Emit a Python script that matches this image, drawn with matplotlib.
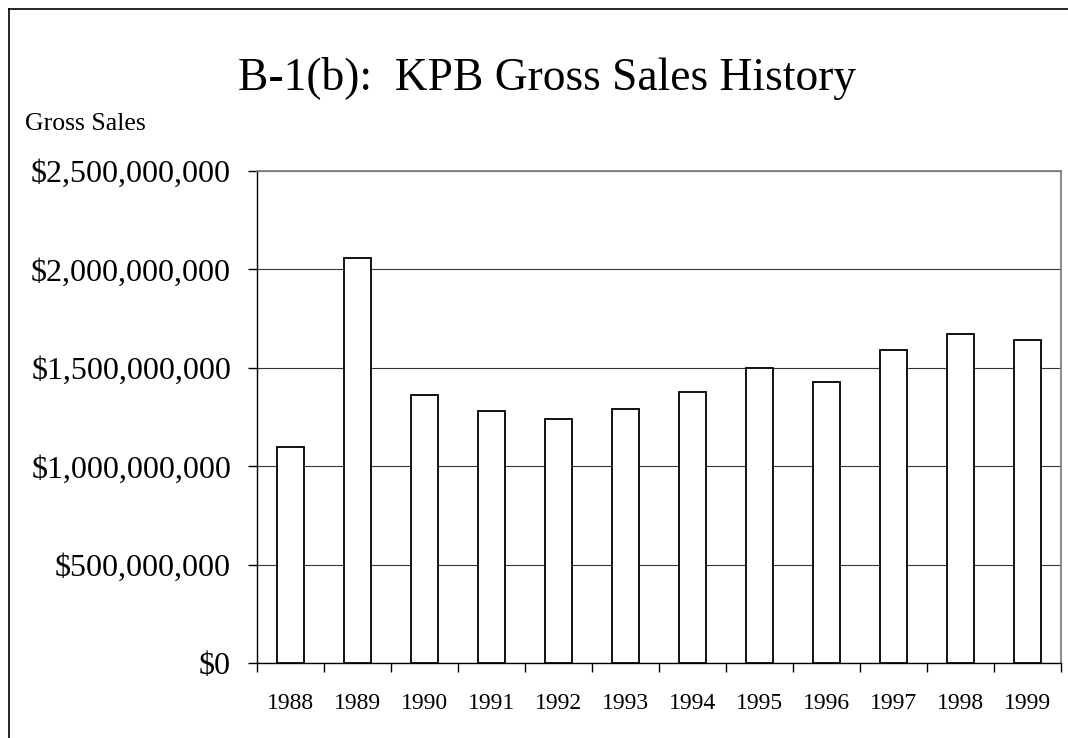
# KPB Gross Sales History als Balkendiagramm
import numpy as np
import matplotlib.pyplot as plt
from matplotlib.lines import Line2D
from matplotlib.ticker import FuncFormatter

plt.rcParams['font.family'] = ['Liberation Serif', 'DejaVu Serif']

# Daten
jahre = ['1988', '1989', '1990', '1991', '1992', '1993',
         '1994', '1995', '1996', '1997', '1998', '1999']
umsatz = [1.10e9, 2.06e9, 1.36e9, 1.28e9, 1.24e9, 1.29e9,
          1.38e9, 1.50e9, 1.43e9, 1.59e9, 1.67e9, 1.64e9]
y_ticks = [0, 5e8, 1e9, 1.5e9, 2e9, 2.5e9]

fig = plt.figure(figsize=(10.68, 7.38), dpi=100)
ax = fig.add_axes([0.2404, 0.1012, 0.9934 - 0.2404, 0.7683 - 0.1012])

x = np.arange(len(jahre))
ax.bar(x, umsatz, width=0.41, color='white', edgecolor='black', linewidth=1.3, zorder=3)

# Achsen
ax.set_xlim(-0.5, len(jahre) - 0.5)
ax.set_ylim(0, 2.5e9)
ax.set_yticks(y_ticks)
ax.yaxis.set_major_formatter(FuncFormatter(lambda v, p: f'${v:,.0f}'))
ax.tick_params(axis='y', direction='out', length=6.5, width=1, pad=12, labelsize=23)

# x-Ticks zwischen den Kategorien, Beschriftung in der Mitte
ax.set_xticks(np.arange(-0.5, len(jahre)), minor=False)
ax.set_xticklabels([])
ax.set_xticks(x, minor=True)
ax.set_xticklabels(jahre, minor=True)
ax.tick_params(axis='x', which='major', direction='out', length=6.3, width=1)
ax.tick_params(axis='x', which='minor', length=0, pad=21.5, labelsize=17)

ax.grid(axis='y', color='#333333', linewidth=0.8, zorder=0)
ax.set_axisbelow(True)

for s in ['left', 'bottom']:
    ax.spines[s].set_color('black')
    ax.spines[s].set_linewidth(1.0)
for s in ['top', 'right']:
    ax.spines[s].set_color('#808080')
    ax.spines[s].set_linewidth(1.3)

# Titel und Beschriftung
fig.text(547.5 / 1068, 1 - 90 / 738, 'B-1(b):  KPB Gross Sales History',
         ha='center', va='baseline', fontsize=32.8)
fig.text(25 / 1068, 1 - 130 / 738, 'Gross Sales', ha='left', va='baseline', fontsize=18.5)

# Rahmen (nur links und oben sichtbar)
fig.add_artist(Line2D([9 / 1068, 9 / 1068], [0, 1 - 9 / 738], color='black', linewidth=1.2))
fig.add_artist(Line2D([9 / 1068, 1], [1 - 9 / 738, 1 - 9 / 738], color='black', linewidth=1.2))

plt.savefig('out.png', dpi=100)
